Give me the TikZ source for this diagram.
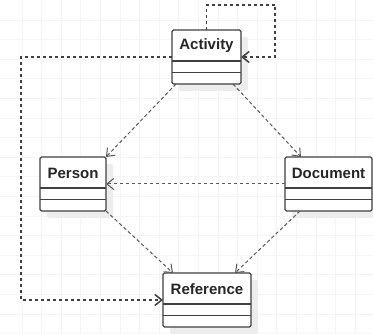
\documentclass[tikz,border=0pt]{standalone}
\usepackage{fontspec}
\setmainfont{Liberation Sans}
\usetikzlibrary{arrows.meta,shadows}

\tikzset{
	classbox/.style={draw=black!75, line width=1.3pt, rounded corners=1.5pt, fill=white,
		minimum height=54pt, inner sep=0pt, outer sep=0pt,
		drop shadow={shadow xshift=7pt, shadow yshift=-7pt, fill=black!7, opacity=1}},
	classname/.style={font=\fontsize{15}{18}\selectfont\bfseries, text=black!85},
	compline/.style={draw=black!75, line width=1.3pt},
	dep/.style={draw=black!65, line width=1pt, dash pattern=on 3.5pt off 2.5pt,
		-{Straight Barb[length=7pt,width=11pt]}},
	loopdep/.style={draw=black!75, line width=1.5pt, dash pattern=on 3pt off 3pt,
		-{Straight Barb[length=7pt,width=11pt]}},
	gridline/.style={draw=black!4, line width=0.8pt}
}

\begin{document}
\begin{tikzpicture}[x=1pt,y=1pt]
	\useasboundingbox (0,0) rectangle (373,-334);
	% background grid
	\foreach \i in {0,...,17}
		\draw[gridline] ({22+19.6*\i},0) -- ({22+19.6*\i},-334);
	\foreach \j in {0,...,16}
		\draw[gridline] (0,{-20-19.6*\j}) -- (373,{-20-19.6*\j});

	% classes
	\node[classbox, minimum width=69pt] (activity) at (206.5,-57) {};
	\node[classbox, minimum width=66pt] (person) at (73,-184) {};
	\node[classbox, minimum width=87pt] (document) at (328.5,-184) {};
	\node[classbox, minimum width=88pt] (reference) at (207,-300) {};

	% class names
	\node[classname] (activityname) at ([yshift=-16pt]activity.north) {Activity};
	\node[classname] (personname) at ([yshift=-16pt]person.north) {Person};
	\node[classname] (documentname) at ([yshift=-16pt]document.north) {Document};
	\node[classname] (referencename) at ([yshift=-16pt]reference.north) {Reference};

	% empty compartments
	\foreach \c in {activity,person,document,reference} {
		\draw[compline] ([yshift=-31pt]\c.north west) -- ([yshift=-31pt]\c.north east);
		\draw[compline] ([yshift=-42.5pt]\c.north west) -- ([yshift=-42.5pt]\c.north east);
	}

	% self dependency of activity
	\coordinate (selfcorner) at (275,-5);
	\draw[loopdep] (activity.north) |- (selfcorner) |- (activity.east);

	% activity to reference, round the left side
	\coordinate (leftcorner) at (21,-300);
	\draw[loopdep] (activity.west) -| (leftcorner) -- (reference.west);

	% dependencies
	\draw[dep] ([xshift=4pt]activity.south west) -- (person.north east);
	\draw[dep] ([xshift=-8pt]activity.south east) -- ([xshift=16pt]document.north west);
	\draw[dep] (document.west) -- (person.east);
	\draw[dep] (person.south east) -- ([xshift=10pt]reference.north west);
	\draw[dep] ([xshift=15pt]document.south west) -- ([xshift=-16pt]reference.north east);
\end{tikzpicture}
\end{document}
